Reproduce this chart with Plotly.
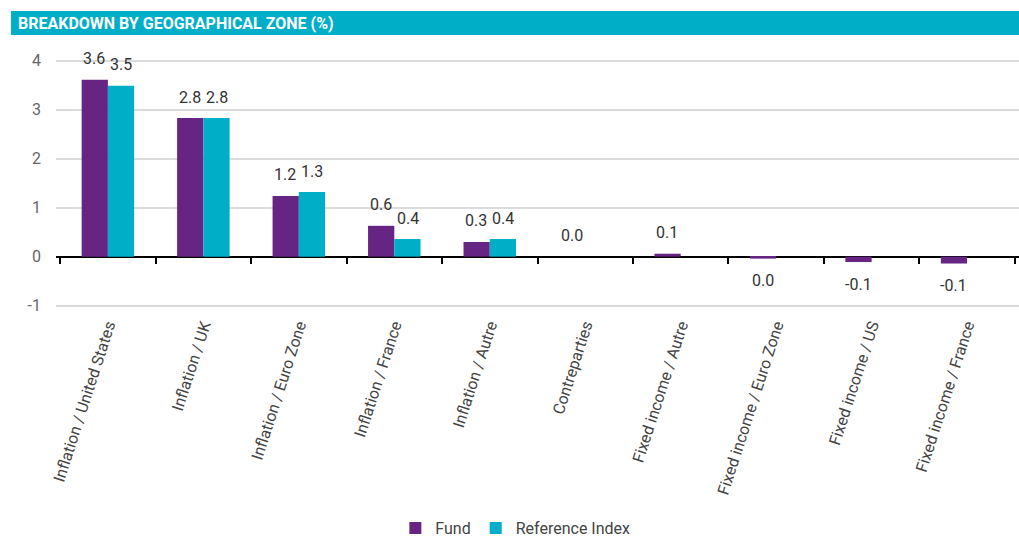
import plotly.graph_objects as go

categories = ["Inflation / United States", "Inflation / UK", "Inflation / Euro Zone",
              "Inflation / France", "Inflation / Autre", "Contreparties",
              "Fixed income / Autre", "Fixed income / Euro Zone", "Fixed income / US",
              "Fixed income / France"]
fund = [3.61, 2.83, 1.24, 0.63, 0.30, 0.0, 0.06, -0.04, -0.11, -0.14]
reference = [3.49, 2.83, 1.32, 0.36, 0.36, None, None, None, None, None]
y_ticks = [-1, 0, 1, 2, 3, 4]

PURPLE = "#662483"
TEAL = "#00AFC7"
YMIN, YMAX = -1.13, 4.22

def fmt(v):
    return f"{round(v, 1) + 0.0:.1f}"

fig = go.Figure()
fig.add_trace(go.Bar(name="Fund", x=categories, y=fund, marker_color=PURPLE,
                     marker_line_width=0, hoverinfo="skip"))
fig.add_trace(go.Bar(name="Reference Index", x=categories,
                     y=[v if v is not None else 0 for v in reference],
                     marker_color=TEAL, marker_line_width=0, hoverinfo="skip"))
# helper trace to carry the tick axis drawn along the zero line
fig.add_trace(go.Scatter(x=categories, y=[0] * len(categories), xaxis="x2",
                         mode="markers", marker_opacity=0, showlegend=False,
                         hoverinfo="skip"))

ann = []
for c, v in zip(categories, fund):
    ann.append(dict(x=c, y=v, xref="x", yref="y", text=fmt(v), showarrow=False,
                    xshift=-13.5, yshift=21 if v >= 0 else -22,
                    font=dict(family="Roboto", size=16, color="#333333")))
for c, v in zip(categories, reference):
    if v is None:
        continue
    ann.append(dict(x=c, y=v, xref="x", yref="y", text=fmt(v), showarrow=False,
                    xshift=13.5, yshift=21 if v >= 0 else -22,
                    font=dict(family="Roboto", size=16, color="#333333")))

ann.append(dict(x=-0.0415, y=1.103, xref="paper", yref="paper", xanchor="left",
                yanchor="middle", showarrow=False,
                text="<b>BREAKDOWN BY GEOGRAPHICAL ZONE (%)</b>",
                font=dict(family="Roboto", size=16, color="white")))

fig.update_layout(
    width=1019, height=537,
    margin=dict(l=56, r=0, t=50, b=225, autoexpand=False),
    paper_bgcolor="white", plot_bgcolor="white",
    barmode="group", bargap=0.45, bargroupgap=0,
    font=dict(family="Roboto", color="#444444"),
    annotations=ann,
    shapes=[dict(type="rect", xref="paper", yref="paper", x0=-0.0467, x1=1.0,
                 y0=1.057, y1=1.149, fillcolor=TEAL, line_width=0, layer="above")],
    legend=dict(orientation="h", x=0.477, xanchor="center", y=-0.825, yanchor="middle",
                font=dict(family="Roboto", size=16, color="#444444"),
                itemwidth=30, tracegroupgap=0),
    xaxis=dict(type="category", categoryarray=categories, tickangle=-72,
               showline=False, showgrid=False, ticks="", zeroline=False,
               automargin=False,
               tickfont=dict(family="Roboto", size=16, color="#444444")),
    xaxis2=dict(type="category", categoryarray=categories, overlaying="x",
                matches="x", anchor="free", position=(0 - YMIN) / (YMAX - YMIN),
                side="bottom", showticklabels=False, showgrid=False, showline=False,
                ticks="outside", tickson="boundaries", ticklen=6, automargin=False,
                tickcolor="black", tickwidth=1.5, zeroline=False),
    yaxis=dict(range=[YMIN, YMAX], tickvals=y_ticks, ticktext=[str(t) for t in y_ticks],
               showgrid=True, automargin=False,
               gridcolor="#DCDCDC", gridwidth=1.5, zeroline=True,
               zerolinecolor="black", zerolinewidth=1.5, ticks="",
               tickfont=dict(family="Roboto", size=16, color="#666666"),
               ticklabelstandoff=14),
)

fig.write_html("out.html", config={"displayModeBar": False},
               post_script="document.body.style.margin='0';document.body.style.overflow='hidden';")
